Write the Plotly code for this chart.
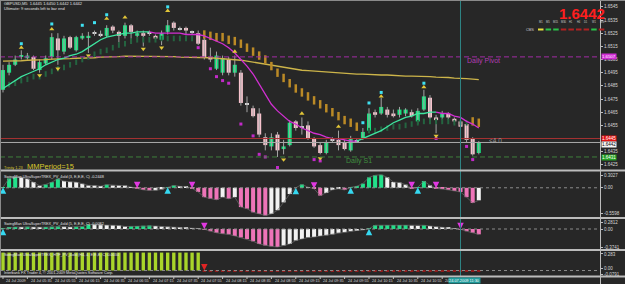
import plotly.graph_objects as go

W, H = 625, 284

# ---------------- data ----------------
bars = list(range(79))
opens = [1.6482,1.6495,1.6501,1.6507,1.6506,1.6507,1.6497,1.6502,1.6507,1.6521,
         1.6511,1.6522,1.6512,1.6521,1.6522,1.6525,1.6524,1.6523,1.6530,1.6526,
         1.6523,1.6531,1.6523,1.6525,1.6525,1.6523,1.6520,1.6526,1.6533,1.6528,
         1.6529,1.6526,1.6525,1.6520,1.6507,1.6498,1.6495,1.6505,1.6495,1.6495,
         1.6471,1.6468,1.6464,1.6446,1.6439,1.6448,1.6437,1.6440,1.6458,1.6454,
         1.6455,1.6445,1.6440,1.6434,1.6444,1.6444,1.6442,1.6436,1.6443,1.6445,
         1.6451,1.6465,1.6464,1.6467,1.6464,1.6463,1.6464,1.6465,1.6458,1.6467,
         1.6476,1.6461,1.6461,1.6464,1.6460,1.6458,1.6456,1.6445,1.6434]
highs = [1.6501,1.6503,1.6508,1.6512,1.6510,1.6508,1.6505,1.6508,1.6525,1.6525,
         1.6523,1.6523,1.6523,1.6525,1.6526,1.6527,1.6527,1.6531,1.6531,1.6527,
         1.6533,1.6532,1.6527,1.6527,1.6527,1.6524,1.6527,1.6535,1.6534,1.6530,
         1.6530,1.6527,1.6527,1.6526,1.6514,1.6511,1.6508,1.6507,1.6508,1.6497,
         1.6477,1.6470,1.6468,1.6449,1.6449,1.6450,1.6444,1.6459,1.6459,1.6461,
         1.6458,1.6446,1.6442,1.6444,1.6446,1.6451,1.6444,1.6447,1.6445,1.6453,
         1.6468,1.6467,1.6476,1.6469,1.6467,1.6469,1.6468,1.6467,1.6468,1.6482,
         1.6478,1.6463,1.6466,1.6465,1.6461,1.6460,1.6458,1.6446,1.6443]
lows = [1.6480,1.6493,1.6500,1.6505,1.6505,1.6497,1.6495,1.6501,1.6505,1.6501,
        1.6509,1.6513,1.6511,1.6520,1.6510,1.6523,1.6522,1.6522,1.6525,1.6518,
        1.6521,1.6517,1.6522,1.6515,1.6523,1.6520,1.6516,1.6524,1.6527,1.6527,
        1.6524,1.6524,1.6516,1.6505,1.6503,1.6497,1.6493,1.6493,1.6492,1.6470,
        1.6465,1.6461,1.6446,1.6436,1.6436,1.6431,1.6433,1.6439,1.6451,1.6448,
        1.6444,1.6438,1.6433,1.6433,1.6442,1.6436,1.6436,1.6435,1.6442,1.6444,
        1.6451,1.6461,1.6463,1.6461,1.6461,1.6461,1.6462,1.6461,1.6456,1.6466,
        1.6459,1.6449,1.6459,1.6459,1.6456,1.6453,1.6442,1.6432,1.6433]
closes = [1.6497,1.6501,1.6505,1.6508,1.6508,1.6498,1.6503,1.6506,1.6522,1.6512,
          1.6521,1.6514,1.6522,1.6523,1.6523,1.6525,1.6524,1.6529,1.6527,1.6523,
          1.6531,1.6526,1.6525,1.6523,1.6525,1.6521,1.6525,1.6531,1.6529,1.6528,
          1.6527,1.6526,1.6517,1.6507,1.6505,1.6508,1.6506,1.6495,1.6501,1.6472,
          1.6471,1.6462,1.6448,1.6440,1.6446,1.6436,1.6439,1.6457,1.6453,1.6454,
          1.6445,1.6439,1.6434,1.6442,1.6444,1.6440,1.6437,1.6445,1.6443,1.6450,
          1.6464,1.6463,1.6469,1.6463,1.6462,1.6467,1.6467,1.6462,1.6466,1.6477,
          1.6461,1.6459,1.6464,1.6461,1.6458,1.6454,1.6444,1.6433,1.6442]

fast_ma = [1.6483,1.6486,1.6489,1.6492,1.6494,1.6496,1.6498,1.6501,1.6503,1.6505,
           1.6506,1.6508,1.6509,1.6511,1.6514,1.6517,1.6520,1.6522,1.6523,1.6524,
           1.6525,1.6525,1.6526,1.6526,1.6526,1.6525,1.6525,1.6525,1.6525,1.6525,
           1.6524,1.6524,1.6524,1.6523,1.6521,1.6519,1.6517,1.6514,1.6510,1.6505,
           1.6500,1.6494,1.6486,1.6478,1.6471,1.6466,1.6462,1.6458,1.6456,1.6453,
           1.6451,1.6449,1.6448,1.6446,1.6445,1.6445,1.6444,1.6443,1.6443,1.6445,
           1.6447,1.6449,1.6451,1.6454,1.6457,1.6459,1.6461,1.6462,1.6464,1.6464,
           1.6465,1.6465,1.6464,1.6464,1.6462,1.6461,1.6458,1.6456,1.6453]
slow_ma = [1.65038,1.65038,1.65041,1.65041,1.65045,1.65045,1.65049,1.65049,1.65053,1.65053,
           1.65057,1.65057,1.65060,1.65060,1.65064,1.65064,1.65068,1.65068,1.65072,1.65072,
           1.65076,1.65076,1.65076,1.65076,1.65076,1.65072,1.65072,1.65072,1.65072,1.65068,
           1.65068,1.65068,1.65068,1.65068,1.65064,1.65060,1.65057,1.65053,1.65049,1.65045,
           1.65038,1.65030,1.65022,1.65015,1.65007,1.65000,1.64992,1.64985,1.64977,1.64969,
           1.64966,1.64962,1.64958,1.64954,1.64950,1.64947,1.64947,1.64943,1.64939,1.64939,
           1.64935,1.64935,1.64932,1.64932,1.64928,1.64928,1.64924,1.64924,1.64924,1.64920,
           1.64920,1.64916,1.64916,1.64913,1.64909,1.64909,1.64905,1.64901,1.64897]

N = None
trail_up = [N,1.6486,1.6487,1.6489,1.6490,1.6492,1.6492,1.6494,1.6496,1.6498,
            1.6499,1.6501,1.6503,1.6505,1.6507,1.6509,1.6511,1.6512,1.6514,1.6516,
            1.6517,1.6519,1.6520,1.6520,1.6520,1.6520,1.6521,1.6521,1.6521,1.6521,
            1.6521,1.6521,N,N,N,N,N,N,N,N,
            N,N,N,N,N,N,N,N,N,N,
            N,N,N,N,N,N,N,N,N,N,
            1.6451,1.6451,1.6452,1.6453,1.6454,1.6454,1.6455,1.6456,1.6457,1.6458,
            1.6458,1.6458,1.6458,1.6458,1.6457,1.6457,1.6457,N,N]
trail_dn = [N,N,N,N,N,N,N,N,N,N,
            N,N,N,N,N,N,N,N,N,N,
            N,N,N,N,N,N,N,N,N,N,
            N,N,N,1.6524,1.6523,1.6522,1.6522,1.6520,1.6519,1.6517,
            1.6514,1.6511,1.6508,1.6505,1.6500,1.6495,1.6491,1.6487,1.6483,1.6480,
            1.6477,1.6474,1.6471,1.6468,1.6465,1.6462,1.6459,1.6457,1.6454,N,
            N,N,N,N,N,N,N,N,N,N,
            N,N,N,N,N,N,N,1.6458,1.6457]

cyan_dot_bars = [3, 8, 13, 15, 17, 27, 59, 60, 62, 69]
cyan_dot_px = [1.6517, 1.6532, 1.6531, 1.6533, 1.6539, 1.6545, 1.6457, 1.6472, 1.6480, 1.6487]
up_mark_bars = [3, 8, 17, 20, 27, 38, 49, 55, 62, 69]
up_mark_px = [1.6514, 1.6528, 1.6536, 1.6537, 1.6542, 1.6511, 1.6464, 1.6454, 1.6477, 1.6484]
dn_mark_bars = [6, 9, 14, 23, 26, 46, 52, 71]
dn_mark_px = [1.6493, 1.6498, 1.6508, 1.6513, 1.6514, 1.6429, 1.6430, 1.6447]
mag_dot_bars = [32, 34, 35, 36, 37, 39, 41, 42, 43, 45, 51, 52, 71, 76, 77]
mag_dot_px = [1.6514, 1.6498, 1.6492, 1.6489, 1.6487, 1.6456, 1.6447, 1.6433, 1.6431,
              1.6423, 1.6429, 1.6428, 1.6445, 1.6439, 1.6429]

pivot_level, s1_level, ask_level, bid_level = 1.6507, 1.6431, 1.6445, 1.6442
price_ticks = [1.6425,1.6435,1.6455,1.6465,1.6475,1.6485,1.6495,1.6505,
               1.6515,1.6525,1.6535,1.6545]

osc1 = [0.01,0.18,0.205,0.20,0.173,0.109,0.04,0.064,0.109,0.173,
        0.128,0.115,0.109,0.077,0.045,0.044,0.03,0.06,0.045,0.044,
        0.043,0.013,-0.01,-0.04,-0.05,-0.048,-0.03,0.01,0.045,0.026,
        0.025,-0.01,-0.08,-0.18,-0.21,-0.23,-0.18,-0.21,-0.18,-0.37,
        -0.40,-0.47,-0.50,-0.53,-0.50,-0.43,-0.28,-0.12,0.00,0.064,
        0.013,-0.02,-0.15,-0.10,-0.04,-0.02,-0.04,0.01,0.03,0.08,
        0.20,0.24,0.25,0.20,0.11,0.10,0.06,-0.01,0.01,0.13,
        0.045,-0.01,-0.02,-0.04,-0.06,-0.08,-0.18,-0.29,-0.24]
osc1_up_arrows = [0, 27, 48, 57, 68]
osc1_dn_arrows = [22, 31, 51, 67, 71]

osc2 = [0.005,0.03,0.04,0.038,0.045,0.04,0.035,0.04,0.045,0.05,
        0.045,0.04,0.045,0.05,0.09,0.088,0.085,0.08,0.075,0.07,
        0.05,0.055,0.06,0.065,0.07,0.06,0.05,0.045,0.04,0.035,
        0.03,0.02,0.01,-0.005,-0.044,-0.076,-0.095,-0.107,-0.139,-0.17,
        -0.20,-0.246,-0.30,-0.33,-0.347,-0.36,-0.33,-0.30,-0.23,-0.20,
        -0.17,-0.16,-0.14,-0.126,-0.107,-0.076,-0.063,-0.044,-0.03,-0.02,
        0.005,0.075,0.075,0.078,0.08,0.08,0.08,0.07,0.065,0.075,
        0.06,0.045,0.035,0.025,0.015,-0.005,-0.044,-0.076,-0.107]
osc2_up_arrows = [0, 60]
osc2_dn_arrows = [33, 75]

osc3 = [0.26,0.26,0.26,0.26,0.26,0.26,0.26,0.26,0.26,0.26,
        0.26,0.26,0.26,0.26,0.26,0.26,0.26,0.26,0.26,0.26,
        0.26,0.26,0.26,0.26,0.26,0.26,0.26,0.26,0.26,0.26,
        0.26,0.26,0.26,-0.02,-0.02,-0.02,-0.02,-0.02,-0.02,-0.02,
        -0.02,-0.02,-0.02,-0.02,-0.02,-0.02,-0.02,-0.02,-0.02,-0.02,
        -0.02,-0.02,-0.02,-0.02,-0.02,-0.02,-0.02,-0.02,-0.02,-0.02,
        -0.02,-0.02,-0.02,-0.02,-0.02,-0.02,-0.02,-0.02,-0.02,-0.02,
        -0.02,-0.02,-0.02,-0.02,-0.02,-0.02,-0.02,-0.02,-0.02]
osc3_dn_arrows = [33]

time_tick_bars = [0,4,8,12,16,20,24,28,32,36,40,44,48,52,56,60,64,68,72]
time_tick_text = ["24 Jul 2009","24 Jul 05:35","24 Jul 05:55","24 Jul 06:15","24 Jul 06:35",
                  "24 Jul 06:55","24 Jul 07:15","24 Jul 07:35","24 Jul 07:55","24 Jul 08:15",
                  "24 Jul 08:35","24 Jul 08:55","24 Jul 09:15","24 Jul 09:35","24 Jul 09:55",
                  "24 Jul 10:15","24 Jul 10:35","24 Jul 10:55","24"]
cursor_bar = 75
cursor_label = "24.07.2009 11:30"

tf_names = ["M1","M5","M15","M30","H1","H4","D1","W1","MN"]
tf_state = ["flat","up","up","dn","dn","dn","dn","up","dn"]

# ---------------- styling ----------------
BG = "#272727"
GREEN = "#17e07e"
PINK = "#f7c3cd"
FONT = "Liberation Sans"

def px(y):          # pixel row -> paper fraction
    return 1 - y / H

def pxx(x):
    return x / W

fig = go.Figure()

# wicks
wx, wy = [], []
for i in bars:
    wx += [i, i, None]
    wy += [lows[i], highs[i], None]
fig.add_trace(go.Scatter(x=wx, y=wy, mode="lines", line=dict(color="#a4a4a4", width=1),
                         xaxis="x", yaxis="y", hoverinfo="skip"))

# slow MA
fig.add_trace(go.Scatter(x=bars, y=slow_ma, mode="lines", line=dict(color="#cdb54a", width=1.4),
                         xaxis="x", yaxis="y", hoverinfo="skip"))

# trailing stop dashes
fig.add_trace(go.Scatter(x=bars, y=trail_up, mode="markers",
                         marker=dict(symbol="line-ns", size=4, line=dict(color="#246440", width=2)),
                         xaxis="x", yaxis="y", hoverinfo="skip"))
fig.add_trace(go.Scatter(x=bars, y=trail_dn, mode="markers",
                         marker=dict(symbol="line-ns", size=6, line=dict(color="#bb8a26", width=2.5)),
                         xaxis="x", yaxis="y", hoverinfo="skip"))

# candle bodies
base, height, colors = [], [], []
for o, c in zip(opens, closes):
    if c > o:
        base.append(o); height.append(c - o); colors.append(GREEN)
    elif c < o:
        base.append(c); height.append(o - c); colors.append(PINK)
    else:
        base.append(o - 0.00004); height.append(0.00009); colors.append("#d8d8d8")
fig.add_trace(go.Bar(x=bars, y=height, base=base, width=0.66, marker=dict(color=colors, line=dict(width=0)),
                     xaxis="x", yaxis="y", hoverinfo="skip"))

# fast MA coloured by direction
state = ["up"]
for i in range(1, len(fast_ma)):
    if fast_ma[i] > fast_ma[i - 1]:
        state.append("up")
    elif fast_ma[i] < fast_ma[i - 1]:
        state.append("dn")
    else:
        state.append(state[-1])
runs = []
cur = state[1]
start = 0
for i in range(1, len(fast_ma)):
    if state[i] != cur:
        runs.append((start, i - 1, cur))
        start = i - 1
        cur = state[i]
runs.append((start, len(fast_ma) - 1, cur))
for s, e, st in runs:
    fig.add_trace(go.Scatter(x=bars[s:e + 1], y=fast_ma[s:e + 1], mode="lines",
                             line=dict(color="#3ee6a0" if st == "up" else "#d22fd2", width=1.3),
                             xaxis="x", yaxis="y", hoverinfo="skip"))

# markers
fig.add_trace(go.Scatter(x=cyan_dot_bars, y=cyan_dot_px, mode="markers",
                         marker=dict(symbol="square", size=3, color="#3fe0f0"),
                         xaxis="x", yaxis="y", hoverinfo="skip"))
fig.add_trace(go.Scatter(x=mag_dot_bars, y=mag_dot_px, mode="markers",
                         marker=dict(symbol="square", size=3, color="#c22ac8"),
                         xaxis="x", yaxis="y", hoverinfo="skip"))
fig.add_trace(go.Scatter(x=up_mark_bars, y=up_mark_px, mode="markers",
                         marker=dict(symbol="triangle-up", size=4.5, color="#e2c638"),
                         xaxis="x", yaxis="y", hoverinfo="skip"))
fig.add_trace(go.Scatter(x=dn_mark_bars, y=dn_mark_px, mode="markers",
                         marker=dict(symbol="triangle-down", size=4.5, color="#e2c638"),
                         xaxis="x", yaxis="y", hoverinfo="skip"))

# oscillator panels
def histo_colors(vals):
    out = []
    for i, v in enumerate(vals):
        p = vals[i - 1] if i > 0 else 0
        if v >= 0:
            out.append("#22e08a" if v >= p else "#f2f2f2")
        else:
            out.append("#ee74b8" if v <= p else "#f2f2f2")
    return out

for vals, ax, ups, dns in [(osc1, "y2", osc1_up_arrows, osc1_dn_arrows),
                           (osc2, "y3", osc2_up_arrows, osc2_dn_arrows)]:
    fig.add_trace(go.Bar(x=bars, y=vals, width=0.66, marker=dict(color=histo_colors(vals), line=dict(width=0)),
                         xaxis="x", yaxis=ax, hoverinfo="skip"))
    fig.add_trace(go.Scatter(x=bars, y=vals, mode="lines", line=dict(color="#6c6c6c", width=0.7),
                             xaxis="x", yaxis=ax, hoverinfo="skip"))
    fig.add_trace(go.Scatter(x=ups, y=[vals[i] for i in ups], mode="markers",
                             marker=dict(symbol="arrow-up", size=6.5, color="#36d8f0", line=dict(width=0)),
                             xaxis="x", yaxis=ax, hoverinfo="skip"))
    fig.add_trace(go.Scatter(x=dns, y=[vals[i] for i in dns], mode="markers",
                             marker=dict(symbol="arrow-down", size=6.5, color="#e038e0", line=dict(width=0)),
                             xaxis="x", yaxis=ax, hoverinfo="skip"))

fig.add_trace(go.Bar(x=bars, y=osc3, width=0.55,
                     marker=dict(color=["#a9d52a" if v > 0 else "#8e1c1c" for v in osc3], line=dict(width=0)),
                     xaxis="x", yaxis="y4", hoverinfo="skip"))
fig.add_trace(go.Scatter(x=osc3_dn_arrows, y=[0 for _ in osc3_dn_arrows], mode="markers",
                         marker=dict(symbol="arrow-down", size=6.5, color="#e02424"),
                         xaxis="x", yaxis="y4", hoverinfo="skip"))

# ---------------- layout ----------------
XR = [-0.49, 97.87]
axfont = dict(family=FONT, size=4.5, color="#d6d6d6")
common_y = dict(side="right", anchor="x", showgrid=False, zeroline=False, showline=False,
                ticks="outside", ticklen=2, tickcolor="#bdbdbd", tickfont=axfont, fixedrange=True)

main_dom = [px(170), px(0)]
fig.update_layout(
    width=W, height=H, margin=dict(l=0, r=0, t=0, b=0),
    paper_bgcolor=BG, plot_bgcolor=BG, showlegend=False, barmode="overlay",
    hovermode=False,
    xaxis=dict(domain=[0, 600 / W], range=XR, anchor="y4", showticklabels=False, showgrid=False,
               zeroline=False, showline=False, ticks=""),
    yaxis=dict(domain=main_dom, range=[1.64211, 1.65502], tickvals=price_ticks,
               ticktext=[f"{v:.4f}" for v in price_ticks], **common_y),
    yaxis2=dict(domain=[px(217), px(172)], range=[-0.5598, 0.3027],
                tickvals=[0.24, 0, -0.50], ticktext=["0.3027", "0.00", "-0.5598"], **common_y),
    yaxis3=dict(domain=[px(249), px(219)], range=[-0.40, 0.20],
                tickvals=[0.13, 0, -0.37], ticktext=["0.2812", "0.00", "-0.3741"], **common_y),
    yaxis4=dict(domain=[px(276), px(251)], range=[-0.0791, 0.283],
                tickvals=[0.24, 0.03, -0.06], ticktext=["0.283", "0.00", "-0.0791"], **common_y),
)

shapes = []
shapes.append(dict(type="line", xref="paper", x0=0, x1=600 / W, yref="y", y0=pivot_level, y1=pivot_level,
                   line=dict(color="#a22ca6", width=1, dash="5px,3px")))
shapes.append(dict(type="line", xref="paper", x0=0, x1=600 / W, yref="y", y0=s1_level, y1=s1_level,
                   line=dict(color="#3f7f3c", width=1, dash="5px,3px")))
shapes.append(dict(type="line", xref="paper", x0=0, x1=600 / W, yref="y", y0=ask_level, y1=ask_level,
                   line=dict(color="#a63232", width=1)))
shapes.append(dict(type="line", xref="paper", x0=0, x1=600 / W, yref="y", y0=bid_level, y1=bid_level,
                   line=dict(color="#aaaaaa", width=1)))
for ax in ["y2", "y3", "y4"]:
    shapes.append(dict(type="line", xref="paper", x0=0, x1=600 / W, yref=ax, y0=0, y1=0,
                       line=dict(color="#8c8c8c", width=1, dash="dot")))
shapes.append(dict(type="line", xref="x", x0=cursor_bar, x1=cursor_bar, yref="paper", y0=px(276), y1=1,
                   line=dict(color="#2f8585", width=1)))
for yy in [170.5, 218, 250, 276.5]:
    shapes.append(dict(type="line", xref="paper", x0=0, x1=1, yref="paper", y0=px(yy), y1=px(yy),
                       line=dict(color="#bcbcbc", width=2)))
shapes.append(dict(type="line", xref="paper", x0=600.5 / W, x1=600.5 / W, yref="paper", y0=0, y1=1,
                   line=dict(color="#bcbcbc", width=1)))
shapes.append(dict(type="line", xref="paper", x0=0.5 / W, x1=0.5 / W, yref="paper", y0=px(276.5), y1=1,
                   line=dict(color="#8a8a8a", width=1)))
shapes.append(dict(type="line", xref="paper", x0=0, x1=1, yref="paper", y0=px(0.5), y1=px(0.5),
                   line=dict(color="#8a8a8a", width=1)))
tf_col = {"flat": "#e8e040", "up": "#2bc24a", "dn": "#b02222"}
for k, st in enumerate(tf_state):
    x0 = 538 + k * 7.6
    shapes.append(dict(type="line", xref="paper", yref="paper", x0=pxx(x0), x1=pxx(x0 + 5.5),
                       y0=px(29.5), y1=px(29.5), line=dict(color=tf_col[st], width=2)))
for b in time_tick_bars:
    shapes.append(dict(type="line", xref="x", x0=b, x1=b, yref="paper", y0=px(276.5), y1=px(279),
                       line=dict(color="#bcbcbc", width=1)))

ann = []
def txt(x, y, s, size=5.5, color="#e0e0e0", xanchor="left", bold=False, bg=None, xref="paper"):
    d = dict(x=x, y=y, xref=xref, yref="paper", text=f"<b>{s}</b>" if bold else s, showarrow=False,
             xanchor=xanchor, yanchor="middle", font=dict(family=FONT, size=size, color=color))
    if bg:
        d.update(bgcolor=bg, borderpad=0)
    ann.append(d)

txt(pxx(2), px(3.5), "GBPUSD,M5  1.6445 1.6450 1.6442 1.6442", size=4)
txt(pxx(2), px(9), "Ultimate: 9 seconds left to bar end", size=4)
txt(pxx(607), px(13.5), "1.6442", size=15, color="#ff1e1e", xanchor="right", bold=True)
for k, name in enumerate(tf_names):
    txt(pxx(540.7 + k * 7.6), px(22), name, size=2.6, color="#cfcfcf", xanchor="center")
txt(pxx(536), px(29.5), "CMS", size=3.5, color="#cfcfcf", xanchor="right")
txt(pxx(465), px(61), "Daily Pivot", size=7, color="#b23cb2")
txt(pxx(344), px(161), "Daily S1", size=7, color="#3f8f3f")
txt(pxx(2), px(167.5), "Trinity 1.23", size=3.8, color="#d8c830")
txt(pxx(25), px(166), "MMPeriod=15", size=7.5, color="#d8c830")
txt(pxx(487), px(140), "&lt;4.0", size=6.5, color="#9a9a9a")
txt(pxx(2), px(176.5), "SwingMan UltraSuperTREX_PV_4old (3, E,E,E, C) -0.2448", size=3.8)
txt(pxx(2), px(223.5), "SwingMan UltraSuperTREX_PV_4old (5, E,E,E, C) -0.0082", size=3.8)
txt(pxx(2), px(255), "SwingMan UltraSuperTREX_HTF_PV_4old (H4, 4, E,E,E, C) 0.0034", size=3.8)
txt(pxx(2), px(272.8), "Interbank FX Trader 4, \u00a9 2001-2009 MetaQuotes Software Corp.", size=3.8)
txt(pxx(601), px(56.2), f"{pivot_level:.4f}", size=4.3, color="#ffffff", bg="#d22cd6")
txt(pxx(601), px(138.2), f"{ask_level:.4f}", size=4.5, color="#ffffff", bg="#e41010")
txt(pxx(601), px(144), f"{bid_level:.4f}", size=4.5, color="#000000", bg="#f4f4f4")
txt(pxx(601), px(157.3), f"{s1_level:.4f}", size=4.5, color="#ffffff", bg="#22a022")
for b, s in zip(time_tick_bars, time_tick_text):
    txt(b + 0.2, px(280.8), s, size=3.8, color="#d8d8d8", xref="x")
txt(cursor_bar + 0.6, px(280.8), cursor_label, size=3.9, color="#ffffff", xanchor="center", bg="#1f9a9a", xref="x")

fig.update_layout(shapes=shapes, annotations=ann)
fig.write_html("out.html")
